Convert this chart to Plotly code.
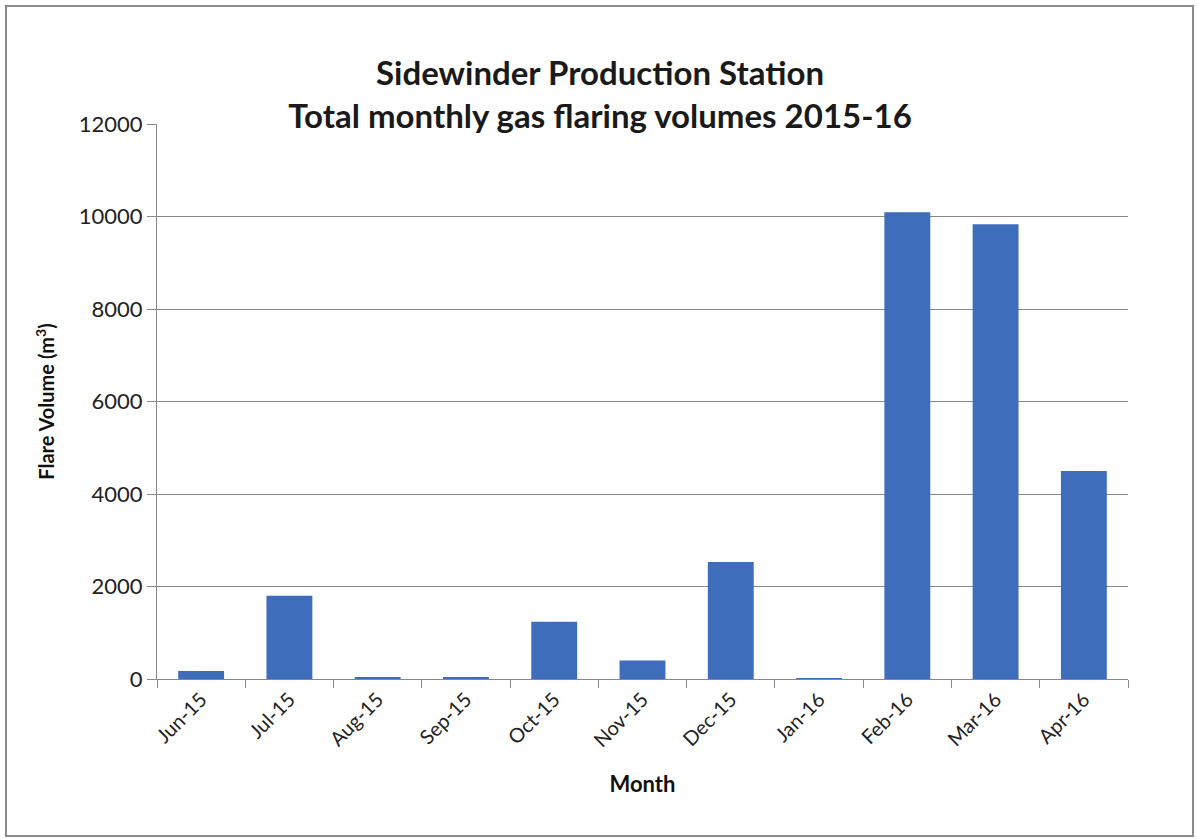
import plotly.graph_objects as go

months = ["Jun-15", "Jul-15", "Aug-15", "Sep-15", "Oct-15", "Nov-15",
          "Dec-15", "Jan-16", "Feb-16", "Mar-16", "Apr-16"]
flare_volume = [175, 1800, 30, 30, 1240, 400, 2530, 10, 10090, 9830, 4500]
y_ticks = [0, 2000, 4000, 6000, 8000, 10000, 12000]
y_tick_labels = [str(v) for v in y_ticks]

W, H = 1197, 839
L, R, T, B = 157, 1128, 124, 679

fig = go.Figure()
fig.add_trace(go.Bar(
    x=months, y=flare_volume,
    marker=dict(color="#3D6DBB", line=dict(width=0)),
    width=0.52,
))

font = "Lato, 'Open Sans', sans-serif"
fig.update_layout(
    width=W, height=H,
    margin=dict(l=L, r=W - R, t=T, b=H - B),
    paper_bgcolor="white", plot_bgcolor="white",
    showlegend=False,
    font=dict(family=font, color="#222"),
    title=dict(
        text="<b>Sidewinder Production Station<br>Total monthly gas flaring volumes 2015-16</b>",
        x=600 / W, xanchor="center", xref="container",
        y=1 - 85 / H, yanchor="middle", yref="container",
        font=dict(size=33, family=font, color="#1a1a1a"),
    ),
    xaxis=dict(
        type="category",
        showline=True, linecolor="#888", linewidth=1,
        ticks="outside", ticklen=8, tickcolor="#888", tickson="boundaries",
        tickangle=-45, tickfont=dict(size=20, color="#222"),
        showgrid=False,
        title=dict(text="<b>Month</b>", font=dict(size=22, color="#111"), standoff=26),
    ),
    yaxis=dict(
        range=[0, 12000], tickvals=y_ticks, ticktext=y_tick_labels,
        showline=True, linecolor="#888", linewidth=1,
        ticks="outside", ticklen=9, tickcolor="#888",
        showgrid=True, gridcolor="#888", gridwidth=1,
        tickfont=dict(size=22, color="#222"),
        zeroline=False,
        title=dict(text="<b>Flare Volume (m<sup>3</sup>)</b>", font=dict(size=20, color="#111"), standoff=18),
    ),
    bargap=0.48,
)

pw, ph = R - L, B - T
fig.add_shape(
    type="rect", xref="paper", yref="paper",
    x0=(6 - L) / pw, x1=(1193 - L) / pw,
    y0=(B - 836) / ph, y1=(B - 6) / ph,
    line=dict(color="#8a8a8a", width=2), fillcolor="rgba(0,0,0,0)", layer="below",
)

fig.write_html("out.html")
